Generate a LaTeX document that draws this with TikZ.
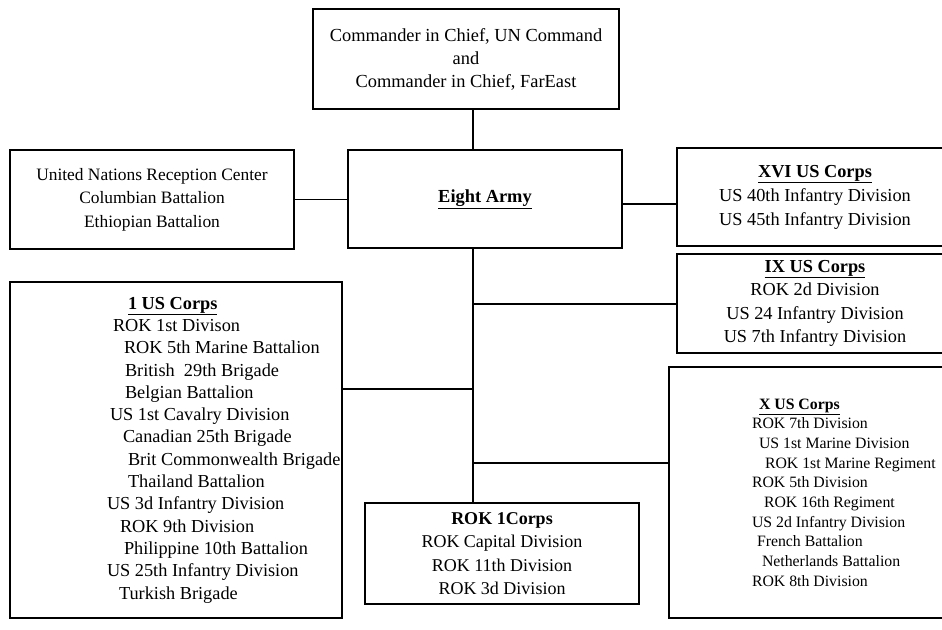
\documentclass[tikz,border=0pt]{standalone}
\usepackage{fontspec}
\setmainfont{Liberation Serif}
\usepackage{tikz}
\newcommand{\unitline}[3]{\makebox[#1][l]{\hspace*{#2}#3}}

\begin{document}
\begin{tikzpicture}[x=1pt,y=-1pt,
                unit/.style={rectangle,draw=black,line width=1.1pt,inner sep=0pt,align=center},
                link/.style={line width=1.1pt}]
        \useasboundingbox (0,0) rectangle (942,629);
        \clip (0,0) rectangle (942,629);
                \node[unit,minimum width=306pt,minimum height=100pt,font=\fontsize{18.4}{23}\selectfont] (cinc) at (466,59)
                        {Commander in Chief, UN Command\\and\\Commander in Chief, FarEast};
                \node[unit,minimum width=274pt,minimum height=98pt,font=\fontsize{18.4}{23}\selectfont] (eight) at (485,199)
                        {\underline{\textbf{Eight Army}}};
                \node[unit,minimum width=284pt,minimum height=99pt,font=\fontsize{17.4}{23.5}\selectfont] (unrc) at (152,199.5)
                        {United Nations Reception Center\\Columbian Battalion\\Ethiopian Battalion};
                \node[unit,minimum width=276pt,minimum height=98pt,font=\fontsize{18.3}{24}\selectfont] (xvi) at (815,197)
                        {\underline{\textbf{XVI US Corps}}\\US 40th Infantry Division\\US 45th Infantry Division};
                \node[unit,minimum width=276pt,minimum height=99pt,font=\fontsize{18.3}{23.5}\selectfont] (ix) at (815,303.5)
                        {\underline{\textbf{IX US Corps}}\\ROK 2d Division\\US 24 Infantry Division\\US 7th Infantry Division};
                \node[unit,align=left,minimum width=332pt,minimum height=336pt,font=\fontsize{18.3}{22.3}\selectfont] (first) at (176,450)
                        {\unitline{332pt}{118pt}{\underline{\textbf{1 US Corps}}}\\
                         \unitline{332pt}{103pt}{ROK 1st Divison}\\
                         \unitline{332pt}{114pt}{ROK 5th Marine Battalion}\\
                         \unitline{332pt}{115pt}{British\ \ 29th Brigade}\\
                         \unitline{332pt}{115pt}{Belgian Battalion}\\
                         \unitline{332pt}{100pt}{US 1st Cavalry Division}\\
                         \unitline{332pt}{113pt}{Canadian 25th Brigade}\\
                         \unitline{332pt}{118pt}{Brit Commonwealth Brigade}\\
                         \unitline{332pt}{118pt}{Thailand Battalion}\\
                         \unitline{332pt}{97pt}{US 3d Infantry Division}\\
                         \unitline{332pt}{110pt}{ROK 9th Division}\\
                         \unitline{332pt}{114pt}{Philippine 10th Battalion}\\
                         \unitline{332pt}{97pt}{US 25th Infantry Division}\\
                         \unitline{332pt}{109pt}{Turkish Brigade}};
                \node[unit,minimum width=274pt,minimum height=101pt,font=\fontsize{18}{23.5}\selectfont] (rok) at (502,553.5)
                        {\textbf{ROK 1Corps}\\ROK Capital Division\\ROK 11th Division\\ROK 3d Division};
                \node[unit,align=left,minimum width=291pt,minimum height=251pt,font=\fontsize{15.8}{19.7}\selectfont] (xcorps) at (814.5,492.5)
                        {\unitline{291pt}{90pt}{\underline{\textbf{X US Corps}}}\\
                         \unitline{291pt}{83pt}{ROK 7th Division}\\
                         \unitline{291pt}{90pt}{US 1st Marine Division}\\
                         \unitline{291pt}{96pt}{ROK 1st Marine Regiment}\\
                         \unitline{291pt}{83pt}{ROK 5th Division}\\
                         \unitline{291pt}{95pt}{ROK 16th Regiment}\\
                         \unitline{291pt}{83pt}{US 2d Infantry Division}\\
                         \unitline{291pt}{88pt}{French Battalion}\\
                         \unitline{291pt}{93pt}{Netherlands Battalion}\\
                         \unitline{291pt}{83pt}{ROK 8th Division}};
                \coordinate (trunk) at (473,0);
                \coordinate (toxvi) at (650,204);
                \coordinate (toix) at (473,304);
                \coordinate (tofirst) at (473,389);
                \coordinate (tox) at (473,463);
                \draw[link] (cinc.south -| trunk) -- (eight.north -| trunk);
                \draw[link] (unrc.east) -- (unrc.east -| eight.west);
                \draw[link] (eight.east |- toxvi) -- (xvi.west |- toxvi);
                \draw[link] (eight.south -| trunk) -- (rok.north -| trunk);
                \draw[link] (toix) -- (ix.west |- toix);
                \draw[link] (tofirst) -- (first.east |- tofirst);
                \draw[link] (tox) -- (xcorps.west |- tox);
\end{tikzpicture}
\end{document}
